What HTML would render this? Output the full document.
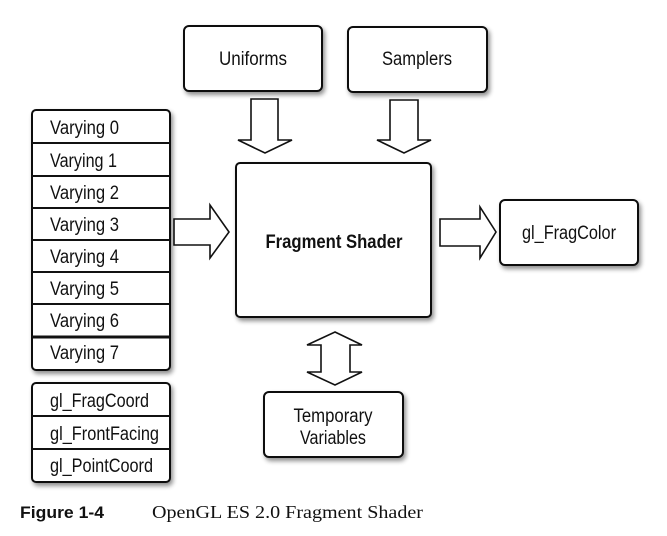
<!DOCTYPE html>
<html><head><meta charset="utf-8"><style>
html,body{margin:0;padding:0;background:#fff;}
svg{display:block;}
text{font-family:"Liberation Sans",sans-serif;fill:#111;}
</style></head><body>
<svg width="667" height="536" viewBox="0 0 667 536" xmlns="http://www.w3.org/2000/svg">
<defs>
<filter id="sh" x="-10%" y="-10%" width="130%" height="130%">
<feGaussianBlur in="SourceAlpha" stdDeviation="2.5"/>
<feOffset dx="2" dy="3"/>
<feComponentTransfer><feFuncA type="linear" slope="0.45"/></feComponentTransfer>
<feMerge><feMergeNode/><feMergeNode in="SourceGraphic"/></feMerge>
</filter>
</defs>
<g fill="#fff" stroke="#111" stroke-width="2" filter="url(#sh)">
<rect x="184" y="26" width="138" height="65" rx="5"/>
<rect x="348" y="27" width="139" height="65" rx="5"/>
<rect x="236" y="163" width="195" height="154" rx="4"/>
<rect x="500" y="200" width="138" height="65" rx="5"/>
<rect x="264" y="392" width="139" height="65" rx="5"/>
<rect x="32" y="110" width="138" height="260" rx="4"/>
<rect x="32" y="383" width="138" height="99" rx="4"/>
</g>
<g stroke="#111" stroke-width="2">
<line x1="32" y1="143" x2="170" y2="143"/>
<line x1="32" y1="176" x2="170" y2="176"/>
<line x1="32" y1="208" x2="170" y2="208"/>
<line x1="32" y1="240" x2="170" y2="240"/>
<line x1="32" y1="272" x2="170" y2="272"/>
<line x1="32" y1="304" x2="170" y2="304"/>
<line x1="32" y1="337" x2="170" y2="337" stroke-width="3"/>
<line x1="32" y1="416" x2="170" y2="416"/>
<line x1="32" y1="449" x2="170" y2="449"/>
</g>
<g fill="#fff" stroke="#111" stroke-width="1.6" stroke-linejoin="miter">
<polygon points="251,99 278,99 278,140 292,140 265,153 238,140 251,140"/>
<polygon points="390,100 418,100 418,140 431,140 404,153 377,140 390,140"/>
<polygon points="174,219 210,219 210,205 229,232 210,258 210,245 174,245"/>
<polygon points="440,219 480,219 480,207 496,232 480,258 480,246 440,246"/>
<polygon points="335,332 362,345 350,345 350,372 362,372 335,385 307,372 321,372 321,345 307,345"/>
</g>
<g font-size="19" text-anchor="middle">
<text x="253" y="65" textLength="68" lengthAdjust="spacingAndGlyphs">Uniforms</text>
<text x="417" y="65" textLength="70" lengthAdjust="spacingAndGlyphs">Samplers</text>
<text x="569" y="239" textLength="94" lengthAdjust="spacingAndGlyphs">gl_FragColor</text>
<text x="333" y="422" textLength="79" lengthAdjust="spacingAndGlyphs">Temporary</text>
<text x="333" y="444" textLength="66" lengthAdjust="spacingAndGlyphs">Variables</text>
<text x="334" y="248" font-weight="bold" textLength="137" lengthAdjust="spacingAndGlyphs">Fragment Shader</text>
</g>
<g font-size="19">
<text x="50" y="134" textLength="69" lengthAdjust="spacingAndGlyphs">Varying 0</text>
<text x="50" y="167" textLength="67" lengthAdjust="spacingAndGlyphs">Varying 1</text>
<text x="50" y="199" textLength="69" lengthAdjust="spacingAndGlyphs">Varying 2</text>
<text x="50" y="231" textLength="69" lengthAdjust="spacingAndGlyphs">Varying 3</text>
<text x="50" y="263" textLength="69" lengthAdjust="spacingAndGlyphs">Varying 4</text>
<text x="50" y="295" textLength="69" lengthAdjust="spacingAndGlyphs">Varying 5</text>
<text x="50" y="327" textLength="69" lengthAdjust="spacingAndGlyphs">Varying 6</text>
<text x="50" y="359" textLength="69" lengthAdjust="spacingAndGlyphs">Varying 7</text>
<text x="50" y="407" textLength="99" lengthAdjust="spacingAndGlyphs">gl_FragCoord</text>
<text x="50" y="440" textLength="109" lengthAdjust="spacingAndGlyphs">gl_FrontFacing</text>
<text x="50" y="472" textLength="103" lengthAdjust="spacingAndGlyphs">gl_PointCoord</text>
</g>
<text x="20" y="518" font-size="17" font-weight="bold" textLength="84" lengthAdjust="spacingAndGlyphs">Figure 1-4</text>
<text x="152" y="518" font-size="18" style="font-family:'Liberation Serif',serif" textLength="271" lengthAdjust="spacingAndGlyphs">OpenGL ES 2.0 Fragment Shader</text>
</svg>
</body></html>
